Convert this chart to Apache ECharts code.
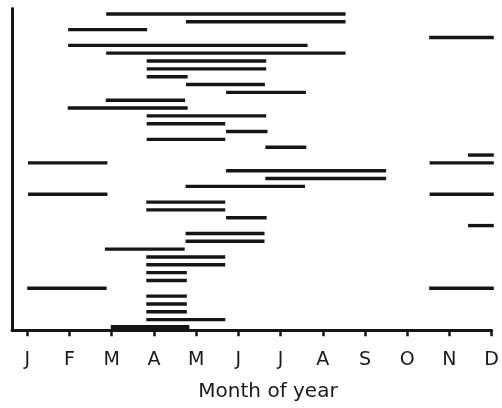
<!DOCTYPE html>
<html>
<head>
<meta charset="utf-8">
<script src="https://cdn.jsdelivr.net/npm/echarts@6/dist/echarts.min.js"></script>
<style>
html,body{margin:0;padding:0;background:#fff;}
#c{width:502px;height:408px;}
</style>
</head>
<body>
<div id="c"></div>
<script>
// Month tick labels (month value 1 = January ... 12 = December)
const monthLabels = ['J','F','M','A','M','J','J','A','S','O','N','D'];
const monthTicks = [1,2,3,4,5,6,7,8,9,10,11,12];

// Record bars: row number (1 = bottom), start month, end month
const rows = [41,40,39,38,37,36,35,34,33,32,31,30,29,28,27,26,25,24,23,
  22,22,21,20,19,18,18,17,16,15,14,13,12,11,10,9,8,7,6,6,5,4,3,2];
const starts = [2.87,4.76,1.97,10.52,1.97,2.87,3.83,3.83,3.83,4.76,5.71,2.86,1.96,3.83,3.83,5.71,3.83,6.64,11.44,
  1.02,10.53,5.71,6.64,4.75,1.02,10.53,3.82,3.82,5.71,11.44,4.75,4.75,2.84,3.82,3.82,3.82,3.82,1.0,10.52,3.82,3.82,3.82,3.82];
const ends = [8.54,8.54,3.84,12.05,7.64,8.54,6.66,6.66,4.80,6.63,7.60,4.74,4.80,6.66,5.69,6.69,5.69,7.61,12.05,
  2.90,12.05,9.50,9.50,7.58,2.90,12.05,5.69,5.69,6.67,12.05,6.62,6.62,4.73,5.69,5.69,4.78,4.78,2.88,12.05,4.78,4.78,4.78,5.69];

// Heavy (summary) bar at the bottom
const heavyRows = [1];
const heavyStarts = [2.98];
const heavyEnds = [4.84];

const ink = '#151515';

function makeRender(thick){
  return function(params, api){
    const r = api.value(0), s = api.value(1), e = api.value(2);
    const p1 = api.coord([s, r]);
    const p2 = api.coord([e, r]);
    return {
      type: 'rect',
      shape: {x: p1[0], y: p1[1] - thick/2, width: p2[0] - p1[0], height: thick},
      style: {fill: ink}
    };
  };
}

const recData = rows.map((r,i) => [r, starts[i], ends[i]]);
const heavyData = heavyRows.map((r,i) => [r, heavyStarts[i], heavyEnds[i]]);

const chart = echarts.init(document.getElementById('c'), null, {renderer:'canvas'});
chart.setOption({
  animation: false,
  backgroundColor: '#fff',
  grid: {left: 12, right: 9, top: 8.5, bottom: 77.7, containLabel: false},
  xAxis: {
    type: 'value',
    min: 0.64,
    max: 12,
    splitLine: {show: false},
    axisLine: {show: true, lineStyle: {color: ink, width: 3}},
    axisTick: {show: true, customValues: monthTicks, length: 6, lineStyle: {color: ink, width: 2.5}},
    axisLabel: {
      show: true,
      customValues: monthTicks,
      formatter: v => monthLabels[Math.round(v) - 1],
      margin: 20,
      fontFamily: 'DejaVu Sans',
      fontSize: 19,
      color: '#1a1a1a'
    }
  },
  yAxis: {
    type: 'value',
    min: 0.64,
    max: 41.7,
    splitLine: {show: false},
    axisLine: {show: true, lineStyle: {color: ink, width: 3}},
    axisTick: {show: false},
    axisLabel: {show: false}
  },
  graphic: [{
    type: 'text',
    x: 268,
    y: 392,
    style: {
      text: 'Month of year',
      fontFamily: 'DejaVu Sans',
      fontSize: 20,
      fill: '#1a1a1a',
      align: 'center',
      verticalAlign: 'middle'
    }
  }],
  series: [
    {type: 'custom', renderItem: makeRender(3.4), data: recData, encode: {x: [1,2], y: 0}, clip: false},
    {type: 'custom', renderItem: makeRender(5), data: heavyData, encode: {x: [1,2], y: 0}, clip: false}
  ]
});
</script>
</body>
</html>
